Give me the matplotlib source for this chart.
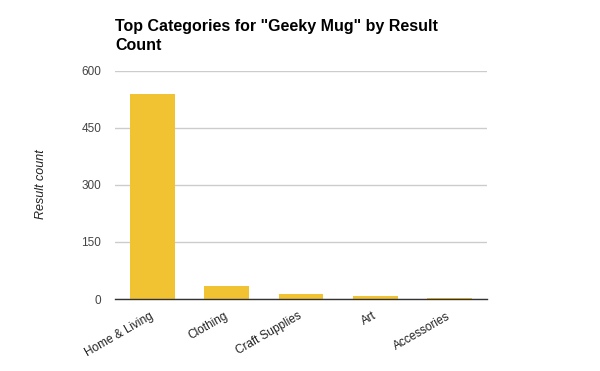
import matplotlib
matplotlib.use("Agg")
import matplotlib.pyplot as plt
from matplotlib.transforms import ScaledTranslation

categories = ["Home & Living", "Clothing", "Craft Supplies", "Art", "Accessories"]
result_counts = [540, 35, 12, 8, 2]
y_ticks = [0, 150, 300, 450, 600]

plt.rcParams['font.family'] = ['Liberation Sans', 'DejaVu Sans']

fig = plt.figure(figsize=(6.0, 3.71), dpi=100)
ax = fig.add_axes([115/600, 1 - 299/371, 372/600, 228/371])

x = list(range(len(categories)))
ax.bar(x, result_counts, width=0.6, color="#f1c232", zorder=3)

ax.set_xlim(-0.5, len(categories) - 0.5)
ax.set_ylim(0, 600)
ax.set_yticks(y_ticks)
ax.set_yticklabels([str(t) for t in y_ticks], color="#444444", fontsize=8.5)
ax.grid(axis="y", color="#cccccc", linewidth=1, zorder=0)
ax.tick_params(axis="both", length=0, pad=10)

ax.set_xticks(x)
ax.set_xticklabels(categories, rotation=30, ha="right", rotation_mode="anchor",
                   color="#222222", fontsize=8.5)
ax.tick_params(axis="x", pad=8)
shift = ScaledTranslation(-3/100, 0, fig.dpi_scale_trans)
for lbl in ax.get_xticklabels():
    lbl.set_transform(lbl.get_transform() + shift)

for side in ["top", "right", "left"]:
    ax.spines[side].set_visible(False)
ax.spines["bottom"].set_color("#333333")
ax.spines["bottom"].set_linewidth(1)
ax.spines["bottom"].set_zorder(4)

fig.text(41/600, 1 - 184/371, "Result count", rotation=90, style="italic",
         fontsize=9, color="#222222", ha="center", va="center")

fig.text(115/600, 1 - 19/371, "Top Categories for \"Geeky Mug\" by Result\nCount",
         fontsize=11.5, fontweight="bold", color="#000000", ha="left", va="top",
         linespacing=1.35)

fig.savefig("out.png", dpi=100, facecolor="white")
